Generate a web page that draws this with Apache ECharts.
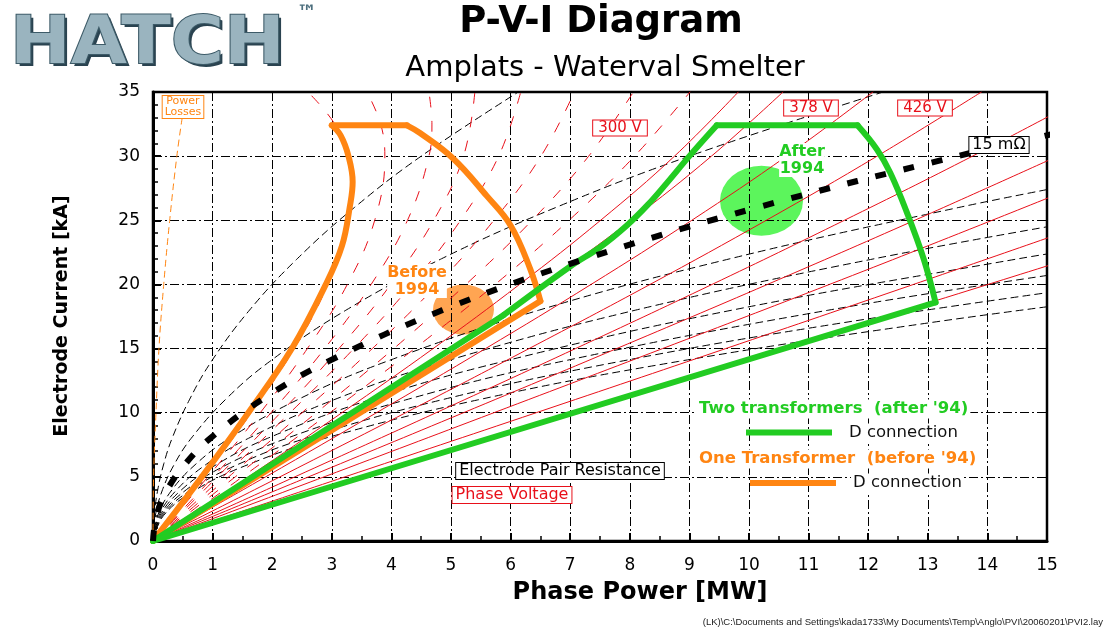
<!DOCTYPE html>
<html>
<head>
<meta charset="utf-8">
<title>P-V-I Diagram</title>
<script src="https://cdn.jsdelivr.net/npm/echarts@6/dist/echarts.min.js"></script>
<style>
  html, body { margin: 0; padding: 0; background: #fff; }
  #pvi { width: 1109px; height: 633px; }
</style>
</head>
<body>
<div id="pvi"></div>
<script>
// all points are [phase power MW, electrode current kA]

// phase voltage (tap) curves, dashed part of the family
const v171 = [[0,0],[0.85,5],[1.65,10],[2.37,15],[2.93,20],[3.27,25],[3.32,27.5],[3.26,30],[3.05,32.5],[2.6,35]];
const v185 = [[0,0],[0.92,5],[1.8,10],[2.59,15],[3.26,20],[3.72,25],[3.89,30],[3.82,32.5],[3.59,35]];
const v203 = [[0,0],[1.01,5],[1.98,10],[2.88,15],[3.66,20],[4.27,25],[4.63,30],[4.68,32.5],[4.63,35]];
const v218 = [[0,0],[1.08,5],[2.14,10],[3.12,15],[3.99,20],[4.71,25],[5.21,30],[5.4,35]];
const v234 = [[0,0],[1.17,5],[2.3,10],[3.37,15],[4.34,20],[5.16,25],[5.8,30],[6.17,35]];
const v254 = [[0,0],[1.27,5],[2.5,10],[3.68,15],[4.77,20],[5.72,25],[6.51,30],[7.07,35]];
const v277 = [[0,0],[1.38,5],[2.74,10],[4.04,15],[5.25,20],[6.36,25],[7.31,30],[8.06,35]];
const v300 = [[0,0],[1.5,5],[2.97,10],[4.39,15],[5.74,20],[6.98,25],[8.08,30],[9.01,35]];

// phase voltage curves, solid part of the family
const v320 = [[0,0],[1.6,5],[3.17,10],[4.7,15],[6.15,20],[7.51,25],[8.75,30],[9.82,35]];
const v339 = [[0,0],[1.69,5],[3.36,10],[4.99,15],[6.55,20],[8.02,25],[9.37,30],[10.57,35]];
const v378 = [[0,0],[1.89,5],[3.75,10],[5.58,15],[7.35,20],[9.04,25],[10.63,30],[12.08,35]];
const v426 = [[0,0],[2.13,5],[4.24,10],[6.31,15],[8.34,20],[10.29,25],[12.15,30],[13.9,35]];
const v477 = [[0,0],[2.38,5],[4.75,10],[7.09,15],[9.38,20],[11.6,25],[13.75,30],[15.8,35]];
const v523 = [[0,0],[2.61,5],[5.21,10],[7.78,15],[10.31,20],[12.78,25],[15.18,30]];
const v574 = [[0,0],[2.87,5],[5.72,10],[8.55,15],[11.35,20],[14.08,25],[16.76,30]];
const v644 = [[0,0],[3.22,5],[6.43,10],[9.61,15],[12.76,20],[15.86,25]];
const v706 = [[0,0],[3.53,5],[7.05,10],[10.54,15],[14.01,20],[17.44,25]];

// electrode pair resistance curves (mOhm)
const r5  = [[0,0],[0.02,2],[0.08,4],[0.18,6],[0.32,8],[0.61,11],[0.98,14],[1.62,18],[2.42,22],[3.38,26],[4.5,30],[6.13,35]];
const r10 = [[0,0],[0.04,2],[0.16,4],[0.36,6],[0.64,8],[1.21,11],[1.96,14],[3.24,18],[4.84,22],[6.76,26],[9,30],[12.25,35]];
const r15 = [[0,0],[0.06,2],[0.24,4],[0.54,6],[0.96,8],[1.82,11],[2.94,14],[4.86,18],[7.26,22],[10.14,26],[13.5,30],[15.36,32]];
const r20 = [[0,0],[0.08,2],[0.32,4],[0.72,6],[1.28,8],[2.42,11],[3.92,14],[6.48,18],[9.68,22],[13.52,26],[15.68,28]];
const r25 = [[0,0],[0.1,2],[0.4,4],[0.9,6],[1.6,8],[3.03,11],[4.9,14],[8.1,18],[12.1,22],[15.63,25]];
const r30 = [[0,0],[0.12,2],[0.48,4],[1.08,6],[1.92,8],[3.63,11],[5.88,14],[9.72,18],[14.52,22],[15.87,23]];
const r35 = [[0,0],[0.14,2],[0.56,4],[1.26,6],[2.24,8],[4.24,11],[6.86,14],[11.34,18],[15.44,21]];
const r40 = [[0,0],[0.16,2],[0.64,4],[1.44,6],[2.56,8],[4.84,11],[7.84,14],[11.56,17],[16,20]];
const r45 = [[0,0],[0.18,2],[0.72,4],[1.62,6],[2.88,8],[5.45,11],[8.82,14],[13.01,17],[16.25,19]];

const powerLosses = [[0,0],[0.01,5],[0.05,10],[0.1,15],[0.18,20],[0.28,25],[0.4,30],[0.49,33]];

// one transformer (before '94) envelope, in pieces
const before94Left = [[0,0],[0.82,5],[1.6,10],[2.33,15],[2.9,20],[3.17,23],[3.3,26],[3.35,28],[3.28,30],[3.15,31.6],[3.0,32.4]];
const before94Top = [[3.0,32.4],[4.26,32.4]];
const before94Right = [[4.26,32.4],[4.48,31.8],[5.04,29.8],[5.6,26.9],[6.0,24.6],[6.33,21.2],[6.5,18.7]];
const before94Bottom = [[6.5,18.7],[0,0]];

// two transformers (after '94) envelope, in pieces
const after94Lower = [[0,0],[5.88,17.6]];
const after94Left = [[5.88,17.6],[7.0,21.4],[7.5,22.9],[7.95,24.6],[8.3,26.2],[8.62,27.9],[9.0,30.0],[9.46,32.4]];
const after94Top = [[9.46,32.4],[11.82,32.4]];
const after94Right = [[11.82,32.4],[12.15,30.5],[12.37,28.7],[12.65,25.6],[12.93,22.0],[13.13,18.6]];
const after94Bottom = [[13.13,18.6],[0,0]];

const before94Spot = [[5.21, 18.04]];
const after94Spot = [[10.21, 26.52]];

const dashedTaps = [v171, v185, v203, v218, v234, v254, v277, v300];
const solidTaps = [v320, v339, v378, v426, v477, v523, v574, v644, v706];
const resistances = [r5, r10, r20, r25, r30, r35, r40, r45];

const RED = '#e8101a';
const ORANGE = '#ff8512';
const GREEN = '#22cc22';

let chart = echarts.init(document.getElementById('pvi'));

function curve(data, color, type, width, smooth) {
  return {
    type: 'line',
    data: data,
    showSymbol: false,
    symbol: 'none',
    silent: true,
    smooth: smooth,
    lineStyle: { color: color, width: width, type: type, cap: 'round', join: 'round' }
  };
}

let series = [];
series.push({ type: 'scatter', data: before94Spot, symbolSize: [61, 50], z: 0, silent: true,
  itemStyle: { color: '#ffa552', opacity: 1 } });
series.push({ type: 'scatter', data: after94Spot, symbolSize: [83, 70], z: 0, silent: true,
  itemStyle: { color: '#5cf55c', opacity: 1 } });
resistances.forEach(d => series.push(curve(d, '#000', [7, 5], 1, 0.4)));
dashedTaps.forEach(d => series.push(curve(d, RED, [10, 14], 1, 0.4)));
solidTaps.forEach(d => series.push(curve(d, RED, 'solid', 1, 0.4)));
series.push(curve(powerLosses, ORANGE, [6, 5], 1, 0.4));
[before94Left, before94Top, before94Right, before94Bottom].forEach(d => series.push(curve(d, ORANGE, 'solid', 6, 0.4)));
[after94Lower, after94Left, after94Top, after94Right, after94Bottom].forEach(d => series.push(curve(d, GREEN, 'solid', 6, 0.4)));
let dotted = curve(r15, '#000', [11, 18], 6, 0.4);
dotted.lineStyle.cap = 'butt';
series.push(dotted);

function boxLabel(text, x, y, color, size, pad) {
  return {
    type: 'text', x: x, y: y, z: 100,
    style: {
      text: text, fill: color, font: size + 'px "DejaVu Sans"',
      align: 'center', verticalAlign: 'middle', textAlign: 'center', textVerticalAlign: 'middle',
      backgroundColor: '#fff', borderColor: color, borderWidth: 1, padding: pad
    }
  };
}

function plainText(text, x, y, color, font, align, bg) {
  return {
    type: 'text', x: x, y: y, z: 100,
    style: {
      text: text, fill: color, font: font,
      align: align, verticalAlign: 'middle', textAlign: align, textVerticalAlign: 'middle',
      backgroundColor: bg || null, padding: bg ? [1, 2] : 0
    }
  };
}

// HATCH logo, two stacked copies for a bevelled look
function hatchLayer(x, y, fill, stroke) {
  return {
    type: 'text', x: x, y: y, z: 100, scaleX: 1.1,
    style: {
      text: 'HATCH', fill: fill, stroke: stroke, lineWidth: stroke ? 2 : 0,
      font: 'bold 66px "DejaVu Sans"', align: 'left', verticalAlign: 'middle',
      textAlign: 'left', textVerticalAlign: 'middle'
    }
  };
}

let graphics = [
  hatchLayer(13, 49, '#2a4350', null),
  hatchLayer(10, 46, '#9ab4bf', '#3d5b68'),
  plainText('\u2122', 307, 14, '#4d6f7e', 'bold 20px "DejaVu Sans"', 'center'),
  plainText('P-V-I Diagram', 601, 22, '#000', 'bold 37px "DejaVu Sans"', 'center'),
  plainText('Amplats - Waterval Smelter', 605, 68, '#000', '29px "DejaVu Sans"', 'center'),
  plainText('Phase Power [MW]', 640, 593, '#000', 'bold 24px "DejaVu Sans"', 'center'),
  {
    type: 'text', x: 62, y: 316, z: 100, rotation: Math.PI / 2,
    style: {
      text: 'Electrode Current [kA]', fill: '#000', font: 'bold 19px "DejaVu Sans"',
      align: 'center', verticalAlign: 'middle', textAlign: 'center', textVerticalAlign: 'middle'
    }
  },
  plainText('(LK)\\C:\\Documents and Settings\\kada1733\\My Documents\\Temp\\Anglo\\PVI\\20060201\\PVI2.lay',
    1103, 622, '#222', '9.5px "Liberation Sans"', 'right'),

  boxLabel('Power\nLosses', 183, 107, ORANGE, 11, [0, 2]),
  boxLabel('300 V', 620, 128, RED, 15, [0, 5]),
  boxLabel('378 V', 811, 108, RED, 15, [0, 5]),
  boxLabel('426 V', 925, 108, RED, 15, [0, 5]),
  boxLabel('15 m\u03a9', 999, 145, '#000', 16, [0, 3]),
  boxLabel('Electrode Pair Resistance', 560, 471, '#000', 16, [0, 3]),
  boxLabel('Phase Voltage', 512, 495, RED, 16, [0, 3]),

  {
    type: 'text', x: 417, y: 281, z: 100,
    style: {
      text: 'Before\n1994', fill: ORANGE, font: 'bold 16px "DejaVu Sans"', lineHeight: 17,
      align: 'center', verticalAlign: 'middle', textAlign: 'center', textVerticalAlign: 'middle',
      backgroundColor: '#fff'
    }
  },
  {
    type: 'text', x: 802, y: 160, z: 100,
    style: {
      text: 'After\n1994', fill: GREEN, font: 'bold 16px "DejaVu Sans"', lineHeight: 17,
      align: 'center', verticalAlign: 'middle', textAlign: 'center', textVerticalAlign: 'middle',
      backgroundColor: '#fff'
    }
  },

  plainText("Two transformers  (after '94)", 697, 409, GREEN, 'bold 16.5px "DejaVu Sans"', 'left', '#fff'),
  { type: 'line', z: 100, shape: { x1: 746, y1: 432.5, x2: 832, y2: 432.5 }, style: { stroke: GREEN, lineWidth: 6 } },
  plainText('D connection', 847, 433, '#111', '16.5px "DejaVu Sans"', 'left', '#fff'),
  plainText("One Transformer  (before '94)", 697, 459, ORANGE, 'bold 16.5px "DejaVu Sans"', 'left', '#fff'),
  { type: 'line', z: 100, shape: { x1: 750, y1: 483, x2: 836, y2: 483 }, style: { stroke: ORANGE, lineWidth: 6 } },
  plainText('D connection', 851, 483, '#111', '16.5px "DejaVu Sans"', 'left', '#fff')
];

chart.setOption({
  animation: false,
  backgroundColor: '#fff',
  grid: { left: 153, right: 62, top: 92, bottom: 92, show: true, borderColor: '#000', borderWidth: 2.5 },
  xAxis: {
    type: 'value', min: 0, max: 15, interval: 1, z: 1,
    axisLine: { onZero: false, lineStyle: { color: '#000', width: 3 } },
    axisTick: { inside: true, length: 8, lineStyle: { color: '#000', width: 2 } },
    minorTick: { show: true, splitNumber: 2, length: 5, lineStyle: { color: '#000', width: 1.5 } },
    axisLabel: { color: '#000', fontSize: 17, fontFamily: 'DejaVu Sans', margin: 16 },
    splitLine: { show: true, lineStyle: { color: '#000', width: 1, type: [9, 3, 2, 3] } }
  },
  yAxis: {
    type: 'value', min: 0, max: 35, interval: 5, z: 1,
    axisLine: { onZero: false, lineStyle: { color: '#000', width: 3 } },
    axisTick: { inside: true, length: 8, lineStyle: { color: '#000', width: 2 } },
    minorTick: { show: true, splitNumber: 5, length: 5, lineStyle: { color: '#000', width: 1.5 } },
    axisLabel: { color: '#000', fontSize: 17, fontFamily: 'DejaVu Sans', margin: 13 },
    splitLine: { show: true, lineStyle: { color: '#000', width: 1, type: [9, 3, 2, 3] } }
  },
  series: series,
  graphic: graphics
});
</script>
</body>
</html>
